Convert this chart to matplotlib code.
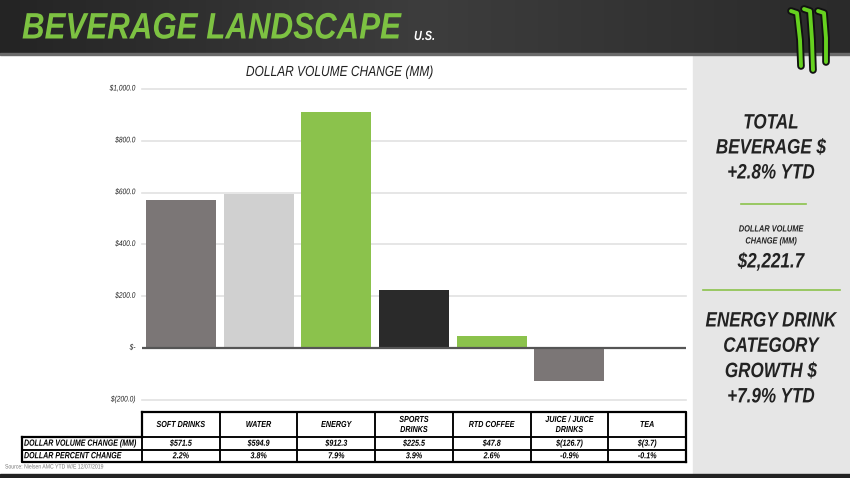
import matplotlib
matplotlib.use('Agg')
import matplotlib.pyplot as plt
import numpy as np
from matplotlib.patches import Rectangle
from matplotlib.patheffects import AbstractPathEffect
from matplotlib.transforms import Affine2D
from matplotlib.colors import LinearSegmentedColormap

# data
categories = ['SOFT DRINKS', 'WATER', 'ENERGY', 'SPORTS\nDRINKS', 'RTD COFFEE',
              'JUICE / JUICE\nDRINKS', 'TEA']
dollar_change = [571.5, 594.9, 912.3, 225.5, 47.8, -126.7, -3.7]
pct_change = ['2.2%', '3.8%', '7.9%', '3.9%', '2.6%', '-0.9%', '-0.1%']
row_labels = ['DOLLAR VOLUME CHANGE (MM)', 'DOLLAR PERCENT CHANGE']
y_ticks = [-200, 0, 200, 400, 600, 800, 1000]
bar_colors = ['#7b7676', '#d0d0d0', '#8bc24c', '#2a2a2a', '#8bc24c', '#7b7676', '#7b7676']
panel_top = ['TOTAL', 'BEVERAGE $', '+2.8% YTD']
panel_mid = ['DOLLAR VOLUME', 'CHANGE (MM)']
panel_total = '$2,221.7'
panel_bottom = ['ENERGY DRINK', 'CATEGORY', 'GROWTH $', '+7.9% YTD']

plt.rcParams['font.family'] = ['Liberation Sans', 'DejaVu Sans']
TXT = '#222222'
GREEN = '#7dc242'

W, H = 850, 478
fig = plt.figure(figsize=(W / 100, H / 100), dpi=100)


class Squeeze(AbstractPathEffect):
    # narrows glyphs horizontally around the text anchor (no narrow font installed)
    def __init__(self, text, sx):
        super().__init__()
        self.text = text
        self.sx = sx

    def draw_path(self, renderer, gc, tpath, affine, rgbFace=None):
        x0 = self.text.get_transform().transform(self.text.get_position())[0]
        squash = Affine2D().translate(-x0, 0).scale(self.sx, 1).translate(x0, 0)
        renderer.draw_path(gc, tpath, affine + squash, rgbFace)


def txt(axis, x, y, s, sx=0.82, **kw):
    t = axis.text(x, y, s, **kw)
    t.set_path_effects([Squeeze(t, sx)])
    return t


def box(x0, y0, x1, y1):
    # pixel box (from top-left) -> figure fraction
    return [x0 / W, 1 - y1 / H, (x1 - x0) / W, (y1 - y0) / H]


def money(v):
    if v < 0:
        return '$(%.1f)' % -v
    if v == 0:
        return '$-'
    return '${:,.1f}'.format(v)


# background layer in pixel coordinates
bg = fig.add_axes([0, 0, 1, 1])
bg.set_xlim(0, W)
bg.set_ylim(H, 0)
bg.axis('off')

# header bar with a soft gradient
hdr = LinearSegmentedColormap.from_list('hdr', ['#242424', '#3d3d3d', '#2a2a2a'])
bg.imshow(np.tile(np.linspace(0, 1, 256), (10, 1)), cmap=hdr,
          extent=(0, W, 54, 0), aspect='auto', zorder=1)
bg.add_patch(Rectangle((0, 53), W, 1.5, color='#6a6a6a', zorder=2))
txt(bg, 22, 29, 'BEVERAGE LANDSCAPE', sx=0.85, color=GREEN, fontsize=26.5,
    fontweight='bold', style='italic', va='center', ha='left', zorder=3)
txt(bg, 414, 37, 'U.S.', color='white', fontsize=9.5, fontweight='bold',
    style='italic', va='center', ha='left', zorder=3)

# monster claw logo
for xs, ys in [([791, 797, 800, 801], [11, 13, 40, 66]),
               ([804, 810, 812, 813], [9, 11, 40, 70]),
               ([818, 824, 826, 826], [11, 13, 38, 62])]:
    bg.plot(xs, ys, color='#111111', lw=5.5, solid_capstyle='round', zorder=3)
    bg.plot(xs, ys, color='#66d11f', lw=2.8, solid_capstyle='round', zorder=4)

# right panel
bg.add_patch(Rectangle((693, 54.5), W - 693, 474 - 54.5, color='#e6e6e6', zorder=1))
bg.add_patch(Rectangle((0, 474), W, 4, color='#222222', zorder=1))
cx = 771
big = dict(ha='center', va='center', fontsize=15, fontweight='bold',
           style='italic', color=TXT, zorder=3)
for i, s in enumerate(panel_top):
    txt(bg, cx, 123 + i * 25, s, **big)
bg.plot([741, 806], [204, 204], color='#8bc24c', lw=1.2, zorder=3)
for i, s in enumerate(panel_mid):
    txt(bg, cx, 229 + i * 12, s, ha='center', va='center', fontsize=6.5,
        fontweight='bold', style='italic', color=TXT, zorder=3)
txt(bg, cx, 262, panel_total, **big)
bg.plot([703, 840], [290, 290], color='#8bc24c', lw=1.2, zorder=3)
for i, s in enumerate(panel_bottom):
    txt(bg, cx, 321 + i * 25.3, s, **big)

txt(bg, 5, 467, 'Source: Nielsen AMC YTD W/E 12/07/2019', fontsize=4.5,
    color='#777777', va='center', ha='left', zorder=3)

# chart title (centred over the left part of the plot, as in the reference)
txt(bg, 340, 72, 'DOLLAR VOLUME CHANGE (MM)', fontsize=10.5, style='italic',
    color=TXT, ha='center', va='center', zorder=3)

# bar chart
ax = fig.add_axes(box(142, 89, 686, 400))
ax.patch.set_alpha(0)
x = np.arange(len(categories))
ax.bar(x, dollar_change, width=0.9, color=bar_colors, zorder=3)
ax.set_xlim(-0.5, len(categories) - 0.5)
ax.set_ylim(-200, 1000)
for t in y_ticks:
    if t == 0:
        ax.axhline(0, color='#555555', lw=1.6, zorder=4)
    else:
        ax.axhline(t, color='#e2e2e2', lw=1.2, zorder=1, clip_on=False)
    txt(ax, -0.012, t, money(t), fontsize=5.8, style='italic', color=TXT,
        ha='right', va='center', transform=ax.get_yaxis_transform())
ax.set_xticks([])
ax.set_yticks([])
for s in ax.spines.values():
    s.set_visible(False)

# data table below the chart
tb = fig.add_axes(box(22, 412, 686, 462))
tb.set_xlim(22, 686)
tb.set_ylim(462, 412)
tb.axis('off')
col_w = (686 - 142) / len(categories)
col_x = [142 + i * col_w for i in range(len(categories))]
rows_y = [(412, 437), (437, 449.5), (449.5, 462)]
kw = dict(fontweight='bold', style='italic', color='black', va='center')
for i, cat in enumerate(categories):
    x0 = col_x[i]
    for (y0, y1) in rows_y:
        tb.add_patch(Rectangle((x0, y0), col_w, y1 - y0, fill=False,
                               ec='black', lw=1.1, clip_on=False))
    xm = x0 + col_w / 2
    txt(tb, xm, 424.5, cat, ha='center', fontsize=6.3, linespacing=1.15, **kw)
    txt(tb, xm, 443.3, money(dollar_change[i]), ha='center', fontsize=6.3, **kw)
    txt(tb, xm, 455.8, pct_change[i], ha='center', fontsize=6.3, **kw)
for (y0, y1), lab in zip(rows_y[1:], row_labels):
    tb.add_patch(Rectangle((22, y0), 142 - 22, y1 - y0, fill=False,
                           ec='black', lw=1.1, clip_on=False))
    txt(tb, 24, (y0 + y1) / 2, lab, sx=0.78, ha='left', fontsize=6.5, **kw)
# heavier outer frame
tb.plot([142, 686, 686], [412, 412, 462], color='black', lw=1.6, clip_on=False)
tb.plot([142, 142], [412, 437], color='black', lw=1.6, clip_on=False)
tb.plot([22, 22, 686], [437, 462, 462], color='black', lw=1.6, clip_on=False)
tb.plot([22, 142], [437, 437], color='black', lw=1.6, clip_on=False)

fig.savefig('out.png', dpi=100)
